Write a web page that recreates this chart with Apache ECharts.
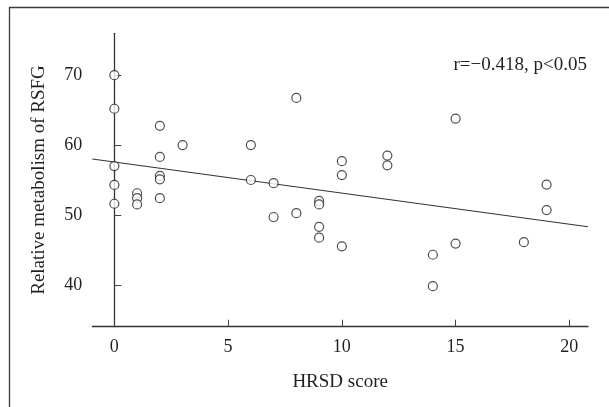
<!DOCTYPE html>
<html>
<head>
<meta charset="utf-8">
<script src="https://cdn.jsdelivr.net/npm/echarts@6/dist/echarts.min.js"></script>
<style>
html,body{margin:0;padding:0;background:#fff;overflow:hidden;}
#c{width:609px;height:407px;}
</style>
</head>
<body>
<div id="c"></div>
<script>
// HRSD score (x) and relative metabolism of RSFG (y)
var hrsd = [0,0,0,0,0, 1,1,1, 2,2,2,2,2, 3, 6,6, 7,7, 8,8, 9,9,9,9, 10,10,10, 12,12, 14,14, 15,15, 18, 19,19];
var rsfg = [70.0,65.2,57.0,54.3,51.6, 53.1,52.4,51.5, 62.75,58.3,55.6,55.1,52.4, 60.0, 60.0,55.0, 54.55,49.7, 66.75,50.25, 52.0,51.5,48.3,46.75, 57.7,55.7,45.5, 58.5,57.1, 44.3,39.8, 63.8,45.9, 46.1, 54.35,50.7];
// regression line endpoints
var fitX = [-0.97, 20.82];
var fitY = [58.0, 48.3];
var xTicks = [0,5,10,15,20];
var yTicks = [40,50,60,70];
var statText = 'r=\u22120.418, p<0.05';
var xName = 'HRSD score';
var yName = 'Relative metabolism of RSFG';

var pts = hrsd.map(function(x,i){return [x, rsfg[i]];});
var fit = fitX.map(function(x,i){return [x, fitY[i]];});
var font = '"Liberation Serif","DejaVu Serif",serif';
var ink = '#231f20';

var chart = echarts.init(document.getElementById('c'), null, {renderer:'canvas'});
chart.setOption({
  animation:false,
  backgroundColor:'#fff',
  grid:{left:92.3, right:21, top:33.3, bottom:80.3, containLabel:false},
  xAxis:{
    type:'value', min:-0.97, max:20.82,
    name:xName, nameLocation:'middle', nameGap:46,
    nameTextStyle:{fontFamily:font, fontSize:19, color:ink},
    axisLine:{show:true, lineStyle:{color:'#333', width:1.3}},
    axisTick:{show:true, inside:true, length:7, customValues:xTicks, lineStyle:{color:'#444', width:1}},
    axisLabel:{customValues:xTicks, margin:12, fontFamily:font, fontSize:18, color:ink},
    splitLine:{show:false}
  },
  yAxis:{
    type:'value', min:34, max:76,
    name:yName, nameLocation:'middle', nameGap:44, nameRotate:90,
    nameTextStyle:{fontFamily:font, fontSize:19, color:ink},
    axisLine:{show:true, lineStyle:{color:'#333', width:1.3}},
    axisTick:{show:true, inside:true, length:7, customValues:yTicks, lineStyle:{color:'#444', width:1}},
    axisLabel:{customValues:yTicks, margin:10, fontFamily:font, fontSize:18, color:ink},
    splitLine:{show:false}
  },
  series:[
    {type:'line', data:fit, showSymbol:false, symbol:'none', lineStyle:{color:'#333', width:1.1}, silent:true, z:1},
    {type:'scatter', data:pts, symbol:'circle', symbolSize:9,
     itemStyle:{color:'#fff', borderColor:'#222', borderWidth:1.2}, z:3}
  ],
  graphic:[
    {type:'polyline', shape:{points:[[9.5,420],[9.5,7.5],[640,7.5]]}, style:{fill:null, stroke:'#3a3a3a', lineWidth:1.3}, silent:true},
    {type:'text', right:22, top:56, style:{text:statText, font:'19px '+font, fill:ink}}
  ]
});
</script>
</body>
</html>
